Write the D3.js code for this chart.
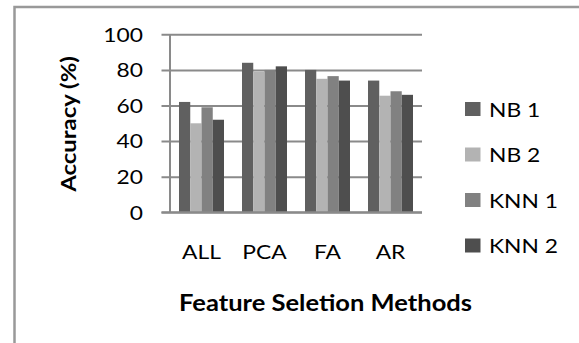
<!DOCTYPE html>
<html>
<head>
<meta charset="utf-8">
<title>Accuracy by feature selection method</title>
<script src="https://d3js.org/d3.v7.min.js"></script>
<style>
  body { margin: 0; background: #fff; }
  text { font-family: Lato, "Open Sans", sans-serif; fill: #000; }
</style>
</head>
<body>
<script>
// data
var methods = ["ALL", "PCA", "FA", "AR"];
var seriesNames = ["NB 1", "NB 2", "KNN 1", "KNN 2"];
var nb1 = [62, 84, 80, 74];
var nb2 = [50, 79, 75, 65.5];
var knn1 = [59, 80, 76.5, 68];
var knn2 = [52, 82, 74, 66];
var yTicks = [0, 20, 40, 60, 80, 100];
var colors = ["#606060", "#b3b3b3", "#818181", "#4e4e4e"];

var series = [nb1, nb2, knn1, knn2];

var width = 579, height = 343;
var stretch = 1.14; // the picture's text is wider than Lato at the same height

var svg = d3.select("body").append("svg")
    .attr("width", width)
    .attr("height", height);

// outer frame
svg.append("rect")
    .attr("x", 14.5).attr("y", 7)
    .attr("width", 700).attr("height", 500)
    .attr("fill", "none")
    .attr("stroke", "#999")
    .attr("stroke-width", 2.5);

var plotL = 170, plotR = 422, plotT = 34.3, plotB = 212.3;

var x0 = d3.scaleBand().domain(methods).range([plotL, plotR]).padding(0);
var x1 = d3.scaleBand().domain(d3.range(seriesNames.length))
    .range([9, x0.bandwidth() - 9]).padding(0);
var y = d3.scaleLinear().domain([0, 100]).range([plotB, plotT]);

// gridlines + ticks
var yAxis = d3.axisLeft(y).tickValues(yTicks)
    .tickSize(-(plotR - plotL)).tickSizeOuter(0).tickFormat("");
var gy = svg.append("g").attr("transform", "translate(" + plotL + ",0)").call(yAxis);
gy.select(".domain").remove();
gy.selectAll(".tick line")
    .attr("x1", -8.5)
    .attr("stroke", "#8a8a8a").attr("stroke-width", 2);

// tick labels
svg.append("g").selectAll("text")
    .data(yTicks)
    .enter().append("text")
    .attr("transform", function(d) { return "translate(143," + y(d) + ") scale(" + stretch + ",1)"; })
    .attr("text-anchor", "end")
    .attr("dy", "0.36em")
    .attr("font-size", 20)
    .text(function(d) { return d; });

// y axis line
svg.append("line")
    .attr("x1", plotL).attr("x2", plotL)
    .attr("y1", y(100)).attr("y2", y(0))
    .attr("stroke", "#8a8a8a").attr("stroke-width", 2);

// bars
var groups = svg.append("g").selectAll("g")
    .data(methods)
    .enter().append("g")
    .attr("transform", function(d) { return "translate(" + x0(d) + ",0)"; });

groups.selectAll("rect")
    .data(function(d, i) { return series.map(function(s, k) { return {k: k, v: s[i]}; }); })
    .enter().append("rect")
    .attr("x", function(d) { return x1(d.k); })
    .attr("width", x1.bandwidth())
    .attr("y", function(d) { return y(d.v); })
    .attr("height", function(d) { return y(0) - y(d.v); })
    .attr("fill", function(d) { return colors[d.k]; });

// baseline on top of the bars
svg.append("line")
    .attr("x1", plotL - 8.5).attr("x2", plotR)
    .attr("y1", y(0)).attr("y2", y(0))
    .attr("stroke", "#8a8a8a").attr("stroke-width", 2);

// category labels
svg.append("g").selectAll("text")
    .data(methods)
    .enter().append("text")
    .attr("transform", function(d) {
      return "translate(" + (x0(d) + x0.bandwidth() / 2) + ",259) scale(" + stretch + ",1)";
    })
    .attr("text-anchor", "middle")
    .attr("font-size", 20)
    .text(function(d) { return d; });

// axis titles
svg.append("text")
    .attr("transform", "translate(325.5,310.5) scale(1.16,1)")
    .attr("text-anchor", "middle")
    .attr("font-size", 22)
    .attr("font-weight", "bold")
    .text("Feature Seletion Methods");

svg.append("text")
    .attr("transform", "translate(76,124) rotate(-90) scale(" + stretch + ",1)")
    .attr("text-anchor", "middle")
    .attr("font-size", 21)
    .attr("font-weight", "bold")
    .text("Accuracy (%)");

// legend
var legend = svg.append("g").selectAll("g")
    .data(seriesNames)
    .enter().append("g")
    .attr("transform", function(d, i) { return "translate(465," + (109 + i * 45.5) + ")"; });
legend.append("rect")
    .attr("x", 0).attr("y", -7)
    .attr("width", 15.5).attr("height", 14)
    .attr("fill", function(d, i) { return colors[i]; });
legend.append("text")
    .attr("transform", "translate(24,7.5) scale(" + stretch + ",1)")
    .attr("font-size", 20)
    .text(function(d) { return d; });
</script>
</body>
</html>
